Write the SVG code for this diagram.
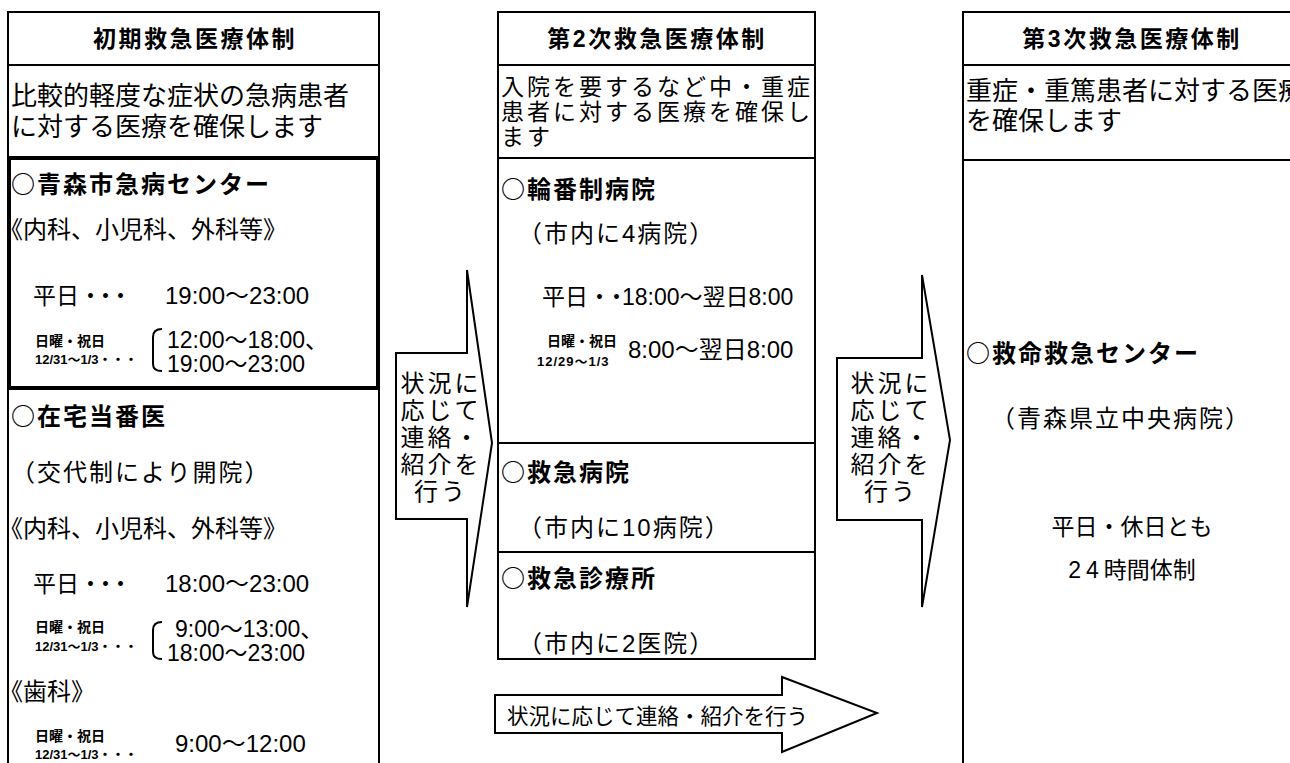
<svg xmlns="http://www.w3.org/2000/svg" width="1290" height="763" viewBox="0 0 1290 763">
<style>
.t{font-family:"Liberation Sans","Noto Sans CJK JP",sans-serif;fill:#000}
.jp{font-family:"Noto Sans CJK JP","Liberation Sans",sans-serif;fill:#000}
.b{font-weight:bold}
.hd{font-size:23px;font-weight:bold;letter-spacing:2.5px;text-anchor:middle}
.ds{font-size:26px}
.f24{font-size:24px}
.f23{font-size:23px}
.s14{font-size:14px;font-weight:bold}
.s13{font-size:13px;font-weight:bold}
.ln{fill:none;stroke:#000;stroke-width:2}
.thk{fill:none;stroke:#000;stroke-width:4}
.arr{fill:#fff;stroke:#000;stroke-width:2;stroke-linejoin:miter}
.mid{text-anchor:middle}
.at{font-size:24px;letter-spacing:3px;text-anchor:middle}
</style>
<rect width="1290" height="763" fill="#fff"/>

<g id="col1">
  <path class="ln" d="M8,763 V12 H379 V763 M8,65 H379 M8,157 H379"/>
  <text class="t hd" x="195" y="47">初期救急医療体制</text>
  <text class="t ds" x="11" y="105">比較的軽度な症状の急病患者</text>
  <text class="t ds" x="11" y="136">に対する医療を確保します</text>
</g>

<g id="kyubyo-center">
  <rect class="thk" x="9" y="158" width="369" height="230"/>
  <text class="jp b f24" x="11" y="193" letter-spacing="2">○青森市急病センター</text>
  <text class="t f24" x="-1" y="238">《内科、小児科、外科等》</text>
  <text class="t f23" x="33" y="304">平日<tspan letter-spacing="-8">・・・</tspan></text>
  <text class="t f24" x="165" y="304">19:00～23:00</text>
  <text class="t s14" x="35" y="346">日曜・祝日</text>
  <text class="t s13" x="35" y="364">12/31～1/3・・・</text>
  <path class="ln" d="M162,329 Q153,329 153,337 V364 Q153,371 162,371"/>
  <text class="t f23" x="167" y="348">12:00～18:00、</text>
  <text class="t f23" x="167" y="372">19:00～23:00</text>
</g>

<g id="zaitaku">
  <text class="jp b f24" x="11" y="425" letter-spacing="2">○在宅当番医</text>
  <text class="t f24" x="11" y="481" letter-spacing="2">（交代制により開院）</text>
  <text class="t f24" x="-1" y="537">《内科、小児科、外科等》</text>
  <text class="t f23" x="33" y="592">平日<tspan letter-spacing="-8">・・・</tspan></text>
  <text class="t f24" x="165" y="592">18:00～23:00</text>
  <text class="t s14" x="35" y="632">日曜・祝日</text>
  <text class="t s13" x="35" y="651">12/31～1/3・・・</text>
  <path class="ln" d="M162,622 Q153,622 153,630 V652 Q153,659 162,659"/>
  <text class="t f23" x="175" y="637">9:00～13:00、</text>
  <text class="t f23" x="167" y="661">18:00～23:00</text>
  <text class="t f24" x="-1" y="700">《歯科》</text>
  <text class="t s14" x="35" y="741">日曜・祝日</text>
  <text class="t s13" x="35" y="759">12/31～1/3・・・</text>
  <text class="t f24" x="175" y="752">9:00～12:00</text>
</g>

<g id="col2">
  <path class="ln" d="M498,12 H815 V659 H498 Z M498,65 H815 M498,158 H815 M498,443 H815 M498,552 H815"/>
  <text class="t hd" x="657" y="47">第2次救急医療体制</text>
  <text class="t" x="501" y="95" font-size="23" letter-spacing="3">入院を要するなど中・重症</text>
  <text class="t" x="501" y="120" font-size="23" letter-spacing="3">患者に対する医療を確保し</text>
  <text class="t" x="501" y="145" font-size="23" letter-spacing="3">ます</text>
</g>

<g id="rinban">
  <text class="jp b f24" x="501" y="198" letter-spacing="2">○輪番制病院</text>
  <text class="t f24" x="518" y="242" letter-spacing="2">（市内に4病院）</text>
  <text class="t f23" x="542" y="305">平日<tspan letter-spacing="-6">・・</tspan>18:00～翌日8:00</text>
  <text class="t s14" x="547" y="346">日曜・祝日</text>
  <text class="t s13" x="537" y="366" letter-spacing="1">12/29～1/3</text>
  <text class="t f24" x="628" y="358">8:00～翌日8:00</text>
</g>

<g id="kyukyu-byoin">
  <text class="jp b f24" x="501" y="481" letter-spacing="2">○救急病院</text>
  <text class="t f24" x="518" y="536" letter-spacing="2">（市内に10病院）</text>
</g>

<g id="kyukyu-shinryojo">
  <text class="jp b f24" x="501" y="587" letter-spacing="2">○救急診療所</text>
  <text class="t f24" x="518" y="652" letter-spacing="2">（市内に2医院）</text>
</g>

<g id="col3">
  <path class="ln" d="M963,763 V12 H1290 M963,65 H1290 M963,160 H1290"/>
  <text class="t hd" x="1132" y="47">第3次救急医療体制</text>
  <text class="t ds" x="966" y="100">重症・重篤患者に対する医療</text>
  <text class="t ds" x="966" y="130">を確保します</text>
</g>

<g id="kyumei-center">
  <text class="jp b f24" x="966" y="362" letter-spacing="2">○救命救急センター</text>
  <text class="t f24" x="991" y="427" letter-spacing="2">（青森県立中央病院）</text>
  <text class="t f23 mid" x="1132" y="535">平日・休日とも</text>
  <text class="t f23 mid" x="1132" y="578"><tspan letter-spacing="5">24</tspan>時間体制</text>
</g>

<g id="connectors">
  <g id="arrow1">
    <polygon class="arr" points="467,270 492,443 467,607 467,519 396,519 396,353 467,353"/>
    <text class="t at" x="441" y="392">状況に</text>
    <text class="t at" x="441" y="419">応じて</text>
    <text class="t at" x="441" y="446">連絡・</text>
    <text class="t at" x="441" y="473">紹介を</text>
    <text class="t at" x="441" y="500">行う</text>
  </g>
  <g id="arrow2">
    <polygon class="arr" points="922,275 950,440 922,607 922,520 837,520 837,358 922,358"/>
    <text class="t at" x="891" y="392">状況に</text>
    <text class="t at" x="891" y="419">応じて</text>
    <text class="t at" x="891" y="446">連絡・</text>
    <text class="t at" x="891" y="473">紹介を</text>
    <text class="t at" x="891" y="500">行う</text>
  </g>
  <g id="arrow3">
    <polygon class="arr" points="495,695 782,695 782,677 877,713 782,752 782,733 495,733"/>
    <text class="t" x="507" y="724" font-size="21.5">状況に応じて連絡・紹介を行う</text>
  </g>
</g>
</svg>
